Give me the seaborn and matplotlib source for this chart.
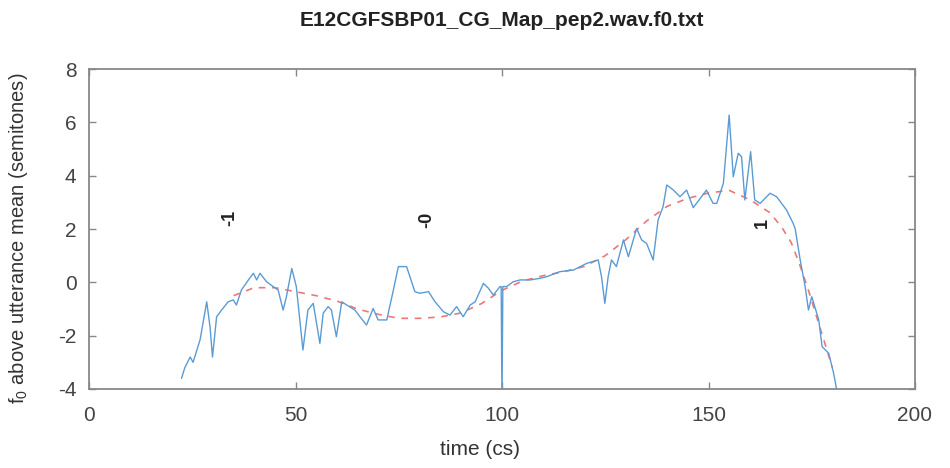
import matplotlib
matplotlib.use("Agg")
import matplotlib.pyplot as plt
import seaborn as sns
import pandas as pd
import numpy as np

# ---- data ----
f0_time = [22.4, 23.2, 24.5, 25.2, 26.9, 28.5, 29.3, 29.9, 30.9, 32.1, 33.7, 34.9, 35.7, 36.9,
           38.6, 39.8, 40.6, 41.4, 43.0, 44.6, 45.8, 47.0, 47.8, 49.1, 50.2, 51.8, 53.0, 54.3,
           55.1, 55.9, 56.7, 57.9, 58.7, 59.9, 61.2, 62.4, 64.4, 65.6, 67.2, 68.8, 70.0, 72.1,
           73.7, 74.9, 76.9, 78.9, 80.1, 82.2, 83.8, 85.8, 87.4, 89.0, 90.6, 92.3, 93.5, 95.5,
           96.7, 97.9, 99.5, 99.8, 100.0, 100.2, 101.1, 102.7, 104.4, 106.8, 109.2, 110.8, 114.0,
           117.3, 120.5, 123.3, 124.1, 124.9, 125.7, 126.5, 127.7, 129.4, 130.6, 132.6, 133.8,
           135.0, 136.6, 137.8, 139.0, 139.9, 141.5, 143.1, 144.7, 146.3, 148.3, 149.5, 151.1,
           152.0, 153.6, 155.0, 156.0, 157.2, 158.0, 158.8, 160.2, 161.2, 162.5, 164.9, 166.5,
           168.9, 170.5, 171.0, 172.2, 173.4, 174.2, 175.0, 176.7, 177.5, 179.1, 180.3, 181.0]
f0_semitones = [-3.6, -3.2, -2.8, -3.0, -2.15, -0.73, -1.66, -2.8, -1.29, -1.04, -0.73, -0.66, -0.85, -0.29,
                0.09, 0.34, 0.09, 0.34, 0.02, -0.16, -0.29, -1.04, -0.54, 0.52, -0.16, -2.54, -1.04, -0.79,
                -1.54, -2.29, -1.16, -0.91, -1.04, -2.04, -0.73, -0.85, -1.04, -1.29, -1.6, -0.98, -1.41, -1.41,
                -0.29, 0.59, 0.59, -0.35, -0.41, -0.35, -0.73, -1.1, -1.23, -0.91, -1.29, -0.85, -0.73, -0.04,
                -0.22, -0.48, -0.16, -0.16, -4.6, -0.16, -0.16, 0.02, 0.09, 0.09, 0.15, 0.21, 0.4,
                0.46, 0.71, 0.84, 0.21, -0.79, 0.21, 0.84, 0.59, 1.59, 0.96, 2.02, 1.59,
                1.46, 0.84, 2.34, 2.84, 3.65, 3.46, 3.21, 3.46, 2.8, 3.21, 3.46, 2.96,
                2.96, 3.71, 6.27, 3.96, 4.84, 4.71, 3.09, 4.9, 3.09, 2.96, 3.34, 3.21,
                2.71, 2.21, 2.0, 0.84, -0.16, -1.04, -0.54, -1.41, -2.41, -2.66, -3.41, -4.0]

fit_time = [35, 40, 45, 50, 55, 60, 65, 70, 75, 80, 85, 90, 95, 100, 105, 110, 115, 120, 125,
            130, 135, 140, 145, 150, 155, 160, 165, 168, 170, 172, 174, 176, 178, 180]
fit_semitones = [-0.5, -0.2, -0.2, -0.35, -0.5, -0.7, -1.0, -1.2, -1.35, -1.35, -1.3, -1.15, -0.8,
                 -0.3, 0.05, 0.25, 0.4, 0.6, 1.0, 1.6, 2.3, 2.85, 3.15, 3.35, 3.45, 3.1, 2.6, 2.0,
                 1.5, 0.7, -0.2, -1.2, -2.2, -3.2]

label_time = [34.1, 81.8, 163.0]
label_pos = [2.4, 2.35, 2.22]
label_text = ["-1", "-0", "1"]

title_text = "E12CGFSBP01_CG_Map_pep2.wav.f0.txt"
x_ticks = [0, 50, 100, 150, 200]
y_ticks = [-4, -2, 0, 2, 4, 6, 8]

# ---- plot ----
sns.set_style("white")
plt.rcParams['font.family'] = ['Liberation Sans', 'DejaVu Sans']
plt.rcParams['axes.unicode_minus'] = False
plt.rcParams['mathtext.fontset'] = 'custom'
plt.rcParams['mathtext.rm'] = 'Liberation Sans'
plt.rcParams['mathtext.it'] = 'Liberation Sans'

fig = plt.figure(figsize=(9.5, 4.68), dpi=100)
ax = fig.add_axes([89/950, 1-389/468, (915-89)/950, (389-69)/468])

df_f0 = pd.DataFrame({"time": f0_time, "st": f0_semitones})
df_fit = pd.DataFrame({"time": fit_time, "st": fit_semitones})

sns.lineplot(data=df_fit, x="time", y="st", ax=ax, color="#ee7777", lw=1.2,
             linestyle=(0, (4, 4)), sort=False, estimator=None)
sns.lineplot(data=df_f0, x="time", y="st", ax=ax, color="#5b9bd5", lw=1.0,
             sort=False, estimator=None)

for t, v, s in zip(label_time, label_pos, label_text):
    ax.text(t, v, s, rotation=90, ha="center", va="center", fontsize=13,
            fontweight="bold", color="#222222")

ax.set_xlim(0, 200)
ax.set_ylim(-4, 8)
ax.set_xticks(x_ticks)
ax.set_yticks(y_ticks)
ax.tick_params(direction="in", length=5, width=1, color="#888888", labelcolor="#444444",
               labelsize=15, top=True, right=True, bottom=True, left=True)
ax.tick_params(axis="x", pad=12)
ax.tick_params(axis="y", pad=9)
for sp in ax.spines.values():
    sp.set_color("#888888")
    sp.set_linewidth(1.3)

ax.set_xlabel("time (cs)", fontsize=15, color="#333333")
ax.set_ylabel(r"f$_0$ above utterance mean (semitones)", fontsize=14.5, color="#333333")
ax.xaxis.set_label_coords(0.473, -0.16)
ax.yaxis.set_label_coords(-0.072, 0.47)

fig.text((89+915)/2/950, 1-20/468, title_text, ha="center", va="center",
         fontsize=15, fontweight="bold", color="#222222")

fig.savefig("out.png", dpi=100, facecolor="white")
